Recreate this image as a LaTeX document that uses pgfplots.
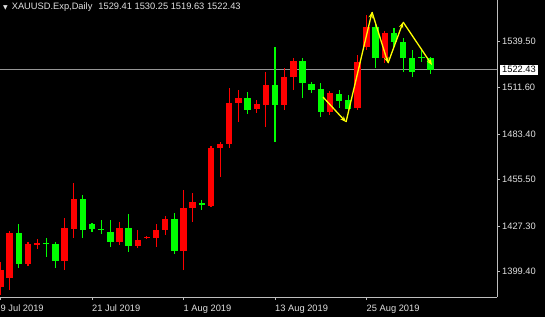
\documentclass[border=0pt]{standalone}
\usepackage{pgfplots}
\pgfplotsset{compat=1.18}
\usepackage{pgfplotstable}
\usetikzlibrary{arrows.meta}
\usepackage{fontspec}
\setmainfont{Liberation Sans}
\newfontfamily\dejavu{DejaVu Sans}
\definecolor{cred}{RGB}{255,0,0}
\definecolor{cgreen}{RGB}{0,255,0}
\definecolor{txt}{RGB}{225,225,225}
\definecolor{axgray}{RGB}{190,190,190}
\definecolor{pline}{RGB}{150,150,150}
\definecolor{cyel}{RGB}{255,255,0}

\pgfplotstableread{
x o h l c
0 1390.1 1405.3 1385.3 1400.5
1 1395.6 1424.2 1388.3 1423.0
3 1404.1 1417.5 1402.9 1416.3
4 1416.3 1419.4 1413.3 1416.9
7 1405.9 1432.2 1400.5 1426.0
8 1425.4 1453.5 1420.0 1443.7
13 1417.5 1429.7 1415.7 1426.0
15 1415.1 1424.8 1413.9 1418.7
16 1420.0 1421.2 1419.4 1420.6
17 1420.0 1428.5 1414.5 1424.8
18 1424.8 1433.4 1421.8 1431.5
20 1412.0 1449.2 1400.5 1438.2
21 1438.2 1447.4 1429.7 1441.9
23 1439.4 1476.0 1438.8 1474.8
24 1474.8 1478.4 1457.1 1477.2
25 1477.2 1511.3 1474.8 1502.2
26 1502.2 1510.1 1490.6 1505.2
28 1498.5 1504.0 1496.1 1501.6
29 1501.0 1521.0 1487.6 1513.1
31 1501.0 1523.5 1497.9 1518.0
32 1518.0 1529.6 1510.1 1527.8
36 1496.7 1509.5 1494.9 1508.3
39 1499.1 1531.4 1497.9 1527.1
40 1536.3 1555.8 1534.5 1548.5
42 1529.6 1546.0 1526.5 1544.8
}\upcandles

\pgfplotstableread{
x o h l c
2 1423.0 1428.5 1401.7 1404.1
5 1417.2 1420.0 1408.4 1416.6
6 1416.3 1417.5 1401.7 1405.9
9 1443.7 1446.1 1420.0 1424.8
10 1428.5 1429.1 1423.6 1425.4
11 1425.7 1430.9 1422.4 1425.1
12 1423.6 1430.9 1414.5 1417.5
14 1426.0 1434.6 1411.4 1415.1
19 1431.5 1435.2 1410.2 1412.0
22 1441.0 1443.1 1437.0 1440.4
27 1505.2 1508.9 1495.5 1497.9
30 1513.1 1536.3 1478.4 1501.0
33 1527.8 1529.6 1505.2 1514.4
34 1513.7 1515.0 1508.3 1510.1
35 1510.7 1514.4 1493.6 1496.7
37 1507.7 1510.1 1499.1 1503.4
38 1504.0 1507.1 1496.7 1498.5
41 1548.5 1551.5 1523.5 1529.6
43 1544.8 1547.8 1536.3 1539.3
44 1539.3 1541.8 1521.0 1529.6
45 1529.6 1534.5 1518.0 1521.0
46 1530.5 1535.1 1527.1 1529.9
47 1529.41 1530.25 1519.63 1522.43
}\downcandles

\begin{document}
\begin{tikzpicture}
\path[fill=black, use as bounding box] (0,0) rectangle (545bp,317bp);
\begin{axis}[
  at={(0,20bp)}, anchor=south west,
  scale only axis, width=497bp, height=297bp,
  xmin=-0.0546, xmax=54.26, ymin=1384.0, ymax=1564.9,
  axis x line=bottom, axis y line=right,
  axis line style={draw=axgray, line width=0.8bp, -},
  clip mode=individual,
  tick align=outside, major tick length=3bp,
  tick style={draw=axgray, line width=0.6bp},
  xtick={0,10,20,30,40},
  xticklabels={9 Jul 2019,21 Jul 2019,1 Aug 2019,13 Aug 2019,25 Aug 2019},
  xticklabel style={anchor=north west, inner xsep=0pt, yshift=-1bp},
  ytick={1399.4,1427.3,1455.5,1483.4,1511.6,1539.5},
  yticklabels={1399.40,1427.30,1455.50,1483.40,1511.60,1539.50},
  yticklabel style={anchor=west, inner xsep=2bp},
  ticklabel style={text=txt, font=\fontsize{9.3bp}{10bp}\selectfont},
]
% current price line
\addplot[pline, line width=0.7bp] coordinates {(-1,1522.43) (60,1522.43)};
% wicks
\addplot[draw=none, mark=none, error bars/.cd, y dir=both, y explicit, error mark=none,
  error bar style={draw=cred, line width=1.1bp}]
  table[x=x, y expr=(\thisrow{h}+\thisrow{l})/2, y error expr=(\thisrow{h}-\thisrow{l})/2] {\upcandles};
\addplot[draw=none, mark=none, error bars/.cd, y dir=both, y explicit, error mark=none,
  error bar style={draw=cgreen, line width=1.1bp}]
  table[x=x, y expr=(\thisrow{h}+\thisrow{l})/2, y error expr=(\thisrow{h}-\thisrow{l})/2] {\downcandles};
% bodies
\addplot[draw=none, mark=none, error bars/.cd, y dir=both, y explicit, error mark=none,
  error bar style={draw=cred, line width=6.4bp}]
  table[x=x, y expr=(\thisrow{o}+\thisrow{c})/2, y error expr=abs(\thisrow{c}-\thisrow{o})/2] {\upcandles};
\addplot[draw=none, mark=none, error bars/.cd, y dir=both, y explicit, error mark=none,
  error bar style={draw=cgreen, line width=6.4bp}]
  table[x=x, y expr=(\thisrow{o}+\thisrow{c})/2, y error expr=abs(\thisrow{c}-\thisrow{o})/2] {\downcandles};
% zigzag arrows
\pgfplotsset{zz/.style={cyel, line width=1.3bp, -{Stealth[length=6bp,width=4.5bp]}}}
\addplot[zz] coordinates {(35.25,1505.8) (37.76,1490.6)};
\addplot[zz] coordinates {(37.76,1490.6) (40.6,1557.6)};
\addplot[zz] coordinates {(40.6,1557.6) (42.35,1526.5)};
\addplot[zz] coordinates {(42.35,1526.5) (44.0,1551.5)};
\addplot[zz] coordinates {(44.0,1551.5) (47.16,1525.3)};
% price label
\node[fill=white, text=black, anchor=west, inner xsep=2bp, inner ysep=1.5bp,
  font=\fontsize{9.3bp}{10bp}\selectfont, xshift=3bp] at (axis cs:54.26,1522.43) {1522.43};
% shift marker
\fill[gray!70] (axis cs:43.33,1564.9) ++(-4bp,0) -- ++(8bp,0) -- ++(-4bp,-5bp) -- cycle;
\end{axis}
\node[anchor=west, text=txt, font=\fontsize{9.3bp}{10bp}\selectfont, inner sep=0pt] at (3bp,310bp)
  {{\dejavu\fontsize{6bp}{6bp}\selectfont ▼}\hspace{4bp}XAUUSD.Exp,Daily\hspace{6bp}1529.41 1530.25 1519.63 1522.43};
\end{tikzpicture}
\end{document}
